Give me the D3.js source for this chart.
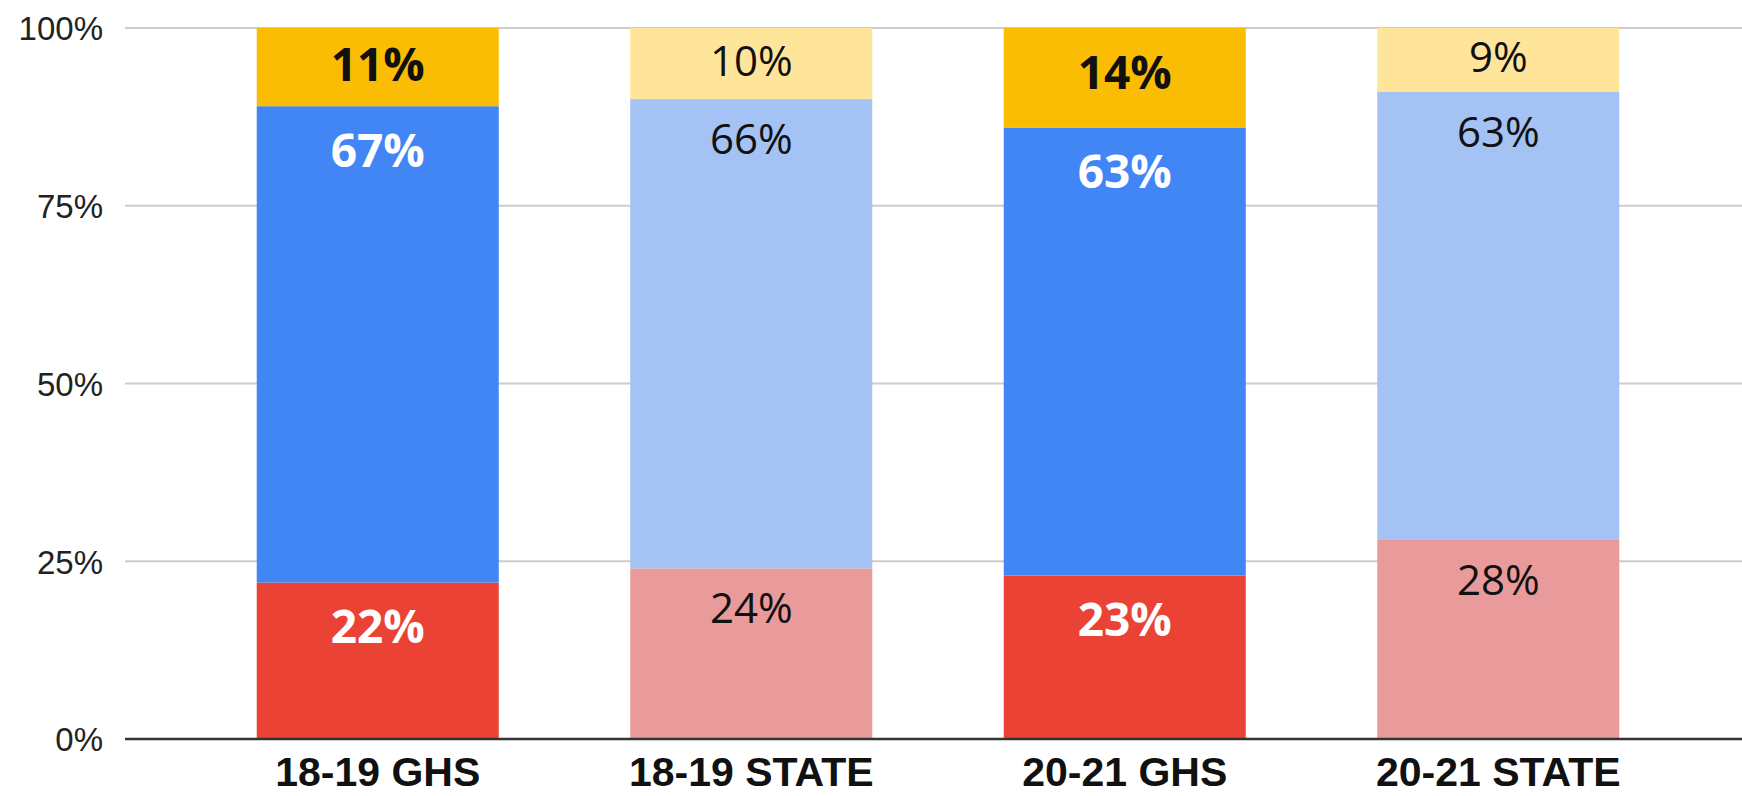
<!DOCTYPE html>
<html>
<head>
<meta charset="utf-8">
<script src="https://cdn.jsdelivr.net/npm/d3@7"></script>
<style>
  html, body { margin: 0; padding: 0; background: #ffffff; }
  svg { display: block; }
</style>
</head>
<body>
<svg id="chart" width="1742" height="796"></svg>
<script>
// School years / groups along the x axis
const categories = ["18-19 GHS", "18-19 STATE", "20-21 GHS", "20-21 STATE"];
// Stacked shares (percent), bottom to top
const seriesNames = ["bottom", "middle", "top"];
const bottomValues = [22, 24, 23, 28];
const middleValues = [67, 66, 63, 63];
const topValues    = [11, 10, 14, 9];
// Y axis tick labels
const yTicks = [0, 25, 50, 75, 100];

// GHS bars use the saturated palette, STATE bars the pale one
const strongColors = { bottom: "#EA4335", middle: "#4285F4", top: "#FBBC04" };
const paleColors   = { bottom: "#E99A9A", middle: "#A4C2F4", top: "#FFE599" };
const isStrong = c => c.endsWith("GHS");

const rows = categories.map((c, i) => ({
  category: c,
  bottom: bottomValues[i],
  middle: middleValues[i],
  top: topValues[i]
}));

const svg = d3.select("#chart");
const plotLeft = 125, plotRight = 1742, plotTop = 28, plotBottom = 739;

const y = d3.scaleLinear().domain([0, 100]).range([plotBottom, plotTop]);
const x = d3.scaleBand()
  .domain(categories)
  .range([191, 1685])
  .paddingInner(0.352)
  .paddingOuter(0.176);

// Horizontal gridlines
svg.append("g")
  .selectAll("line")
  .data(yTicks.filter(t => t > 0))
  .join("line")
  .attr("x1", plotLeft).attr("x2", plotRight)
  .attr("y1", d => y(d)).attr("y2", d => y(d))
  .attr("stroke", "#cccccc")
  .attr("stroke-width", 2);

// Y axis labels
const yAxis = d3.axisLeft(y).tickValues(yTicks).tickFormat(d => d + "%").tickSize(0).tickPadding(0);
const yg = svg.append("g").attr("transform", `translate(103,0)`).call(yAxis);
yg.select(".domain").remove();
yg.selectAll("text")
  .attr("font-family", "'Liberation Sans', Arial, sans-serif")
  .attr("font-size", 33)
  .attr("fill", "#222222")
  .attr("dy", "0.36em");

// Stacked bars
const stacked = d3.stack().keys(seriesNames)(rows);
const layers = svg.append("g")
  .selectAll("g")
  .data(stacked)
  .join("g");

layers.selectAll("rect")
  .data(s => s.map(d => ({ key: s.key, d })))
  .join("rect")
  .attr("x", e => x(e.d.data.category))
  .attr("width", x.bandwidth())
  .attr("y", e => y(e.d[1]))
  .attr("height", e => y(e.d[0]) - y(e.d[1]))
  .attr("fill", e => (isStrong(e.d.data.category) ? strongColors : paleColors)[e.key]);

// Value labels near the top of each segment
const boldOffset = 44, plainOffset = 40;
layers.selectAll("text")
  .data(s => s.map(d => ({ key: s.key, d })))
  .join("text")
  .attr("x", e => x(e.d.data.category) + x.bandwidth() / 2)
  .attr("y", e => {
    const strong = isStrong(e.d.data.category);
    const top = y(e.d[1]);
    const h = y(e.d[0]) - top;
    const off = Math.min(strong ? boldOffset : plainOffset, h / 2 - 3);
    const cap = strong ? 33 : 30;
    return top + off + cap / 2;
  })
  .attr("text-anchor", "middle")
  .attr("font-family", "'Open Sans', sans-serif")
  .attr("font-weight", e => isStrong(e.d.data.category) ? 700 : 400)
  .attr("font-size", e => isStrong(e.d.data.category) ? 46 : 42)
  .attr("fill", e => {
    if (!isStrong(e.d.data.category)) return "#111111";
    return e.key === "top" ? "#111111" : "#ffffff";
  })
  .text(e => (e.d[1] - e.d[0]) + "%");

// Baseline
svg.append("line")
  .attr("x1", plotLeft).attr("x2", plotRight)
  .attr("y1", y(0)).attr("y2", y(0))
  .attr("stroke", "#333333")
  .attr("stroke-width", 2.5);

// Category labels
const xAxis = d3.axisBottom(x).tickSize(0).tickPadding(0);
const xg = svg.append("g").attr("transform", `translate(0,${plotBottom})`).call(xAxis);
xg.select(".domain").remove();
xg.selectAll("text")
  .attr("font-family", "'Liberation Sans', Arial, sans-serif")
  .attr("font-weight", 700)
  .attr("font-size", 41)
  .attr("fill", "#111111")
  .attr("dy", null)
  .attr("y", 47);
</script>
</body>
</html>
